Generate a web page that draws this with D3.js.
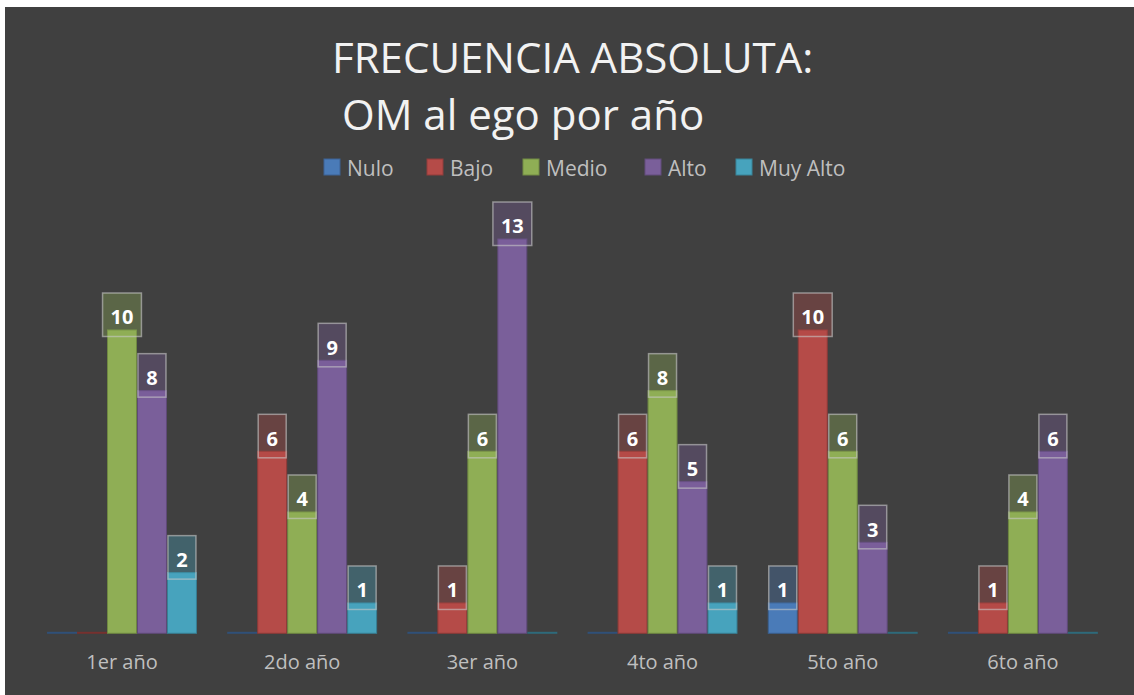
<!DOCTYPE html>
<html>
<head>
<meta charset="utf-8">
<script src="https://cdn.jsdelivr.net/npm/d3@7"></script>
<style>
  html, body { margin: 0; padding: 0; background: #ffffff; }
  svg { display: block; }
  text { font-family: "Open Sans", "DejaVu Sans", sans-serif; }
</style>
</head>
<body>
<svg id="chart" width="1134" height="695"></svg>
<script>
// ---- data ----
const categories = ["1er año", "2do año", "3er año", "4to año", "5to año", "6to año"];
const seriesNames = ["Nulo", "Bajo", "Medio", "Alto", "Muy Alto"];
const nulo    = [0, 0, 0, 0, 1, 0];
const bajo    = [0, 6, 1, 6, 10, 1];
const medio   = [10, 4, 6, 8, 6, 4];
const alto    = [8, 9, 13, 5, 3, 6];
const muyAlto = [2, 1, 0, 1, 0, 0];
const seriesValues = [nulo, bajo, medio, alto, muyAlto];
const seriesColors = ["#4a7bb8", "#b54b48", "#8fae55", "#7a5f9a", "#47a3bd"];
const titleLine1 = "FRECUENCIA ABSOLUTA:";
const titleLine2 = "OM al ego por año";

// ---- layout ----
const W = 1134, H = 695;
const svg = d3.select("#chart");

svg.append("rect").attr("x", 5).attr("y", 7).attr("width", W - 5).attr("height", H - 7)
  .attr("fill", "#404040");

const baseY = 633.3;
const x = d3.scaleBand().domain(categories).range([31.9, 1113])
  .paddingInner(0.168).paddingOuter(0.084);
const xs = d3.scaleBand().domain(seriesNames).range([0, x.bandwidth()]).padding(0);
const y = d3.scaleLinear().domain([0, 14]).range([baseY, baseY - 14 * 30.33]);

// title
svg.append("text").attr("x", 332).attr("y", 73).attr("fill", "#f2f2f2")
  .attr("font-size", 42).text(titleLine1);
svg.append("text").attr("x", 342).attr("y", 130).attr("fill", "#f2f2f2")
  .attr("font-size", 42).text(titleLine2);

// legend
const legendX = [324, 427, 523, 645, 736];
const lg = svg.append("g");
seriesNames.forEach((s, i) => {
  lg.append("rect").attr("x", legendX[i]).attr("y", 159).attr("width", 16).attr("height", 16)
    .attr("fill", seriesColors[i]).attr("stroke", d3.color(seriesColors[i]).darker(0.6)).attr("stroke-width", 1);
  lg.append("text").attr("x", legendX[i] + 23).attr("y", 176).attr("fill", "#bfbfbf")
    .attr("font-size", 21).text(s);
});

// data rows
const rows = [];
categories.forEach((c, ci) => {
  seriesNames.forEach((s, si) => {
    rows.push({ cat: c, ser: s, si: si, v: seriesValues[si][ci] });
  });
});

const bars = svg.append("g");
rows.forEach(d => {
  const bx = x(d.cat) + xs(d.ser);
  const col = seriesColors[d.si];
  if (d.v === 0) {
    bars.append("rect").attr("x", bx).attr("y", baseY - 1.5).attr("width", xs.bandwidth())
      .attr("height", 2).attr("fill", d3.color(col).darker(1.2));
  } else {
    bars.append("rect").attr("x", bx + 0.5).attr("y", y(d.v)).attr("width", xs.bandwidth() - 1)
      .attr("height", baseY - y(d.v)).attr("fill", col)
      .attr("stroke", d3.color(col).darker(0.7)).attr("stroke-width", 1);
  }
});

// labels
const labels = svg.append("g");
rows.filter(d => d.v > 0).forEach(d => {
  const cx = x(d.cat) + xs(d.ser) + xs.bandwidth() / 2;
  const col = seriesColors[d.si];
  const top = y(d.v) - 37, bottom = y(d.v) + 6.5;
  const t = labels.append("text").attr("x", cx).attr("y", (top + bottom) / 2 + 2)
    .attr("text-anchor", "middle").attr("dominant-baseline", "central")
    .attr("fill", "#ffffff").attr("font-size", 20).attr("font-weight", "bold").text(d.v);
  const tw = t.node().getComputedTextLength();
  const bw = Math.max(28, tw + 16);
  labels.insert("rect", () => t.node())
    .attr("x", cx - bw / 2).attr("y", top).attr("width", bw).attr("height", bottom - top)
    .attr("fill", col).attr("fill-opacity", 0.35)
    .attr("stroke", "#c8c8c8").attr("stroke-opacity", 0.6).attr("stroke-width", 1.5);
});

// x axis
const ax = svg.append("g").attr("transform", `translate(0,${baseY})`)
  .call(d3.axisBottom(x).tickSize(0).tickPadding(21.5));
ax.select(".domain").remove();
ax.selectAll("text").attr("fill", "#bfbfbf").attr("font-size", 20)
  .attr("font-family", "'Open Sans', 'DejaVu Sans', sans-serif");
</script>
</body>
</html>
